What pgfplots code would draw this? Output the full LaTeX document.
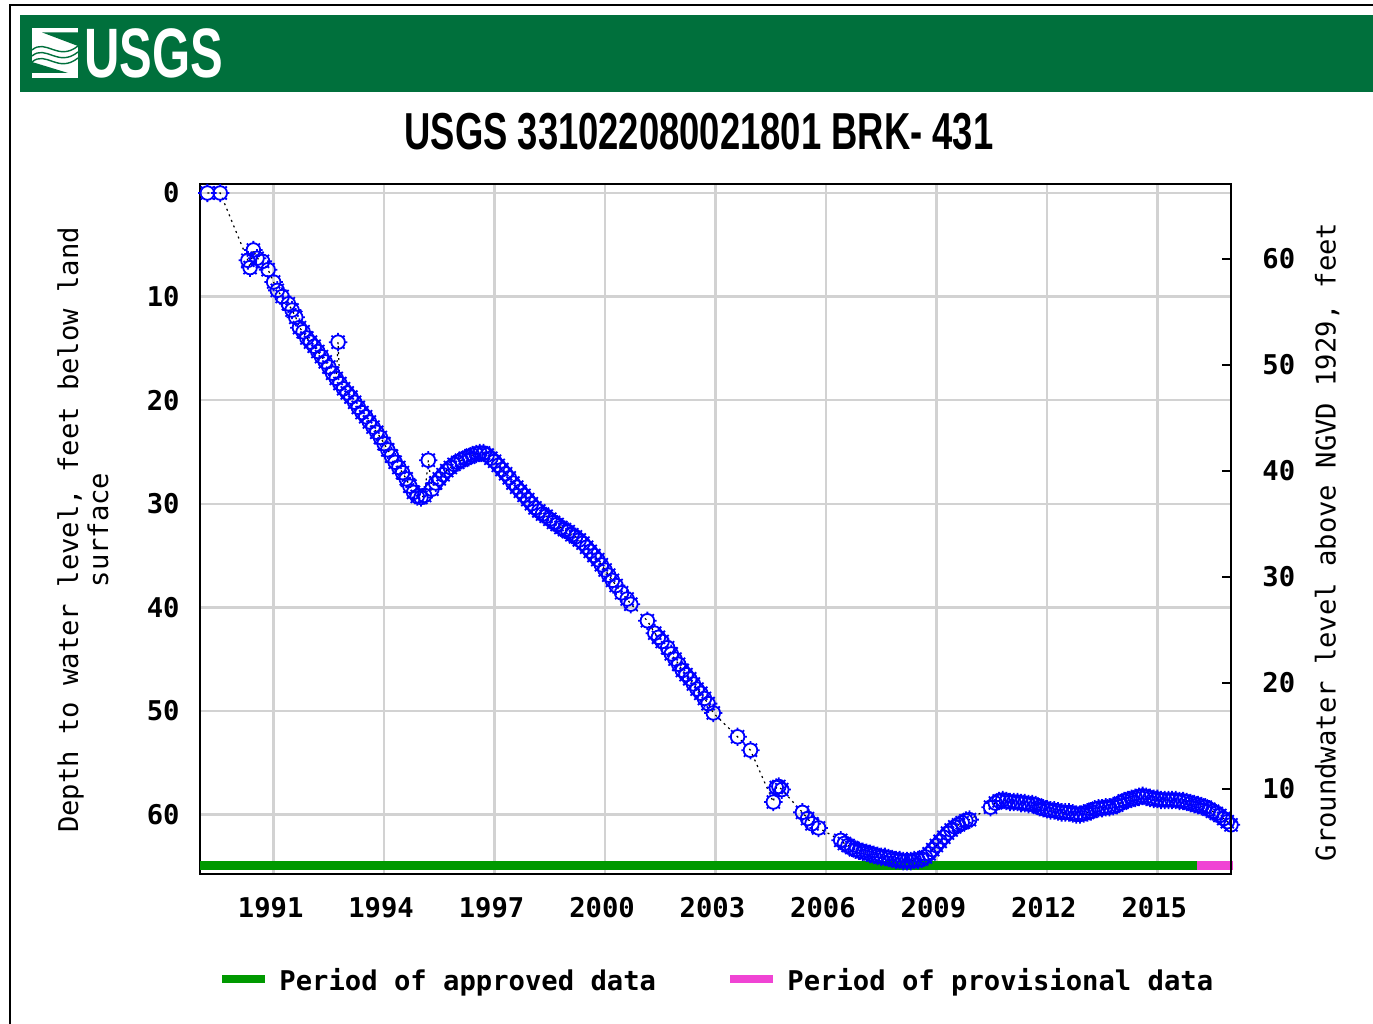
\documentclass[border=0pt]{standalone}
\usepackage{pgfplots}
\pgfplotsset{compat=1.18}
\usepackage{pgfplotstable}
\usepackage{fontspec}
\setmainfont{DejaVu Sans Mono}
\newfontfamily\mono{DejaVu Sans Mono}
\newfontfamily\narrow[FakeStretch=0.70]{Liberation Sans}
\definecolor{usgsgreen}{RGB}{0,112,60}
\definecolor{appr}{RGB}{0,153,0}
\definecolor{prov}{RGB}{240,68,212}
\definecolor{gridc}{RGB}{210,210,210}
\definecolor{markblue}{RGB}{0,0,255}

\pgfdeclareplotmark{usgs}{%
  \pgfpathcircle{\pgfpointorigin}{3.4pt}%
  \pgfusepathqstroke
  \foreach \a in {0,45,...,315}{%
    \pgfpathmoveto{\pgfpointpolar{\a}{3.4pt}}%
    \pgfpathlineto{\pgfpointpolar{\a}{4.6pt}}%
  }%
  \pgfusepathqstroke
}

\pgfplotstableread{
yr d
1989.20 0.0
1989.55 0.0
1990.30 6.5
1990.36 7.2
1990.45 5.5
1990.55 6.3
1990.70 6.6
1990.85 7.4
1991.00 8.6
1991.10 9.4
1991.23 10.0
1991.40 10.7
1991.50 11.3
1991.60 12.0
1991.70 13.0
1991.80 13.4
1991.90 14.0
1992.00 14.4
1992.10 14.8
1992.20 15.3
1992.30 15.8
1992.40 16.3
1992.50 16.8
1992.60 17.4
1992.70 17.9
1992.75 14.4
1992.80 18.4
1992.90 18.9
1993.00 19.3
1993.10 19.7
1993.20 20.2
1993.30 20.7
1993.40 21.2
1993.50 21.6
1993.60 22.1
1993.70 22.6
1993.80 23.1
1993.90 23.6
1994.00 24.2
1994.10 24.8
1994.20 25.4
1994.30 26.0
1994.40 26.5
1994.50 27.0
1994.60 27.6
1994.70 28.3
1994.80 28.9
1994.90 29.3
1995.00 29.4
1995.10 29.2
1995.20 25.8
1995.30 28.6
1995.40 28.0
1995.50 27.6
1995.60 27.2
1995.70 26.8
1995.80 26.5
1995.90 26.2
1996.00 26.0
1996.10 25.8
1996.20 25.6
1996.30 25.5
1996.40 25.3
1996.50 25.2
1996.60 25.1
1996.70 25.1
1996.80 25.3
1996.90 25.6
1997.00 25.9
1997.10 26.3
1997.20 26.7
1997.30 27.1
1997.40 27.5
1997.50 28.0
1997.60 28.4
1997.70 28.8
1997.80 29.2
1997.90 29.6
1998.00 30.0
1998.10 30.4
1998.20 30.7
1998.30 31.0
1998.40 31.2
1998.50 31.5
1998.60 31.8
1998.70 32.0
1998.80 32.3
1998.90 32.5
1999.00 32.7
1999.10 33.0
1999.20 33.2
1999.30 33.5
1999.40 33.8
1999.50 34.2
1999.60 34.6
1999.70 35.0
1999.80 35.4
1999.90 35.9
2000.00 36.4
2000.10 36.9
2000.20 37.4
2000.30 37.9
2000.45 38.6
2000.60 39.2
2000.70 39.7
2001.15 41.3
2001.35 42.5
2001.45 42.9
2001.55 43.3
2001.70 43.9
2001.80 44.5
2001.90 45.0
2002.00 45.5
2002.10 46.1
2002.20 46.5
2002.30 46.9
2002.40 47.4
2002.50 47.9
2002.60 48.3
2002.70 48.8
2002.80 49.3
2002.94 50.2
2003.60 52.5
2003.95 53.8
2004.57 58.8
2004.65 57.4
2004.72 57.3
2004.80 57.6
2005.36 59.8
2005.50 60.4
2005.62 60.9
2005.80 61.3
2006.40 62.5
2006.50 62.8
2006.60 63.0
2006.70 63.2
2006.80 63.4
2006.90 63.5
2007.00 63.6
2007.10 63.7
2007.20 63.8
2007.30 63.9
2007.40 64.0
2007.50 64.1
2007.60 64.1
2007.70 64.2
2007.80 64.3
2007.90 64.4
2008.00 64.4
2008.10 64.5
2008.20 64.5
2008.30 64.5
2008.40 64.4
2008.50 64.4
2008.60 64.3
2008.70 64.1
2008.80 63.8
2008.90 63.4
2009.00 63.0
2009.10 62.6
2009.20 62.2
2009.30 61.8
2009.40 61.5
2009.50 61.2
2009.60 61.0
2009.70 60.8
2009.80 60.6
2009.90 60.5
2010.47 59.3
2010.60 58.9
2010.70 58.7
2010.80 58.6
2010.90 58.7
2011.00 58.8
2011.10 58.8
2011.20 58.8
2011.30 58.9
2011.40 58.9
2011.50 59.0
2011.60 59.0
2011.70 59.1
2011.80 59.3
2011.90 59.4
2012.00 59.5
2012.10 59.6
2012.20 59.6
2012.30 59.7
2012.40 59.8
2012.50 59.8
2012.60 59.8
2012.70 59.9
2012.80 60.0
2012.90 60.0
2013.00 59.9
2013.10 59.8
2013.20 59.7
2013.30 59.5
2013.40 59.4
2013.50 59.4
2013.60 59.3
2013.70 59.3
2013.80 59.2
2013.90 59.1
2014.00 58.9
2014.10 58.7
2014.20 58.6
2014.30 58.5
2014.40 58.4
2014.50 58.3
2014.60 58.2
2014.70 58.3
2014.80 58.4
2014.90 58.5
2015.00 58.5
2015.10 58.6
2015.20 58.6
2015.30 58.6
2015.40 58.6
2015.50 58.6
2015.60 58.7
2015.70 58.7
2015.80 58.8
2015.90 58.9
2016.00 59.0
2016.10 59.1
2016.20 59.2
2016.30 59.3
2016.40 59.5
2016.50 59.7
2016.60 59.9
2016.70 60.1
2016.80 60.4
2016.90 60.7
2017.00 61.0
}\gw

\begin{document}
\begin{tikzpicture}
\useasboundingbox (0,0) rectangle (686.5pt,512pt);
% frame
\draw[line width=0.9pt] (5pt,0pt) -- (5pt,509.5pt) -- (686.5pt,509.5pt);
% banner
\fill[usgsgreen] (10pt,466pt) rectangle (686.5pt,504.5pt);
% logo symbol
\fill[white] (16pt,473pt) rectangle (39pt,498pt);
\fill[usgsgreen] (21pt,495.8pt) -- (39pt,495.8pt) -- (39pt,489pt) -- cycle;
\fill[usgsgreen] (16pt,475.5pt) -- (34pt,475.5pt) -- (16pt,481pt) -- cycle;
\draw[usgsgreen, line width=0.7pt] (16pt,484pt) .. controls (23pt,490pt) and (29pt,478pt) .. (39pt,486pt);
\draw[usgsgreen, line width=0.7pt] (16pt,487pt) .. controls (23pt,493pt) and (29pt,481pt) .. (39pt,489pt);
\draw[usgsgreen, line width=0.7pt] (16pt,481pt) .. controls (23pt,487pt) and (29pt,475pt) .. (39pt,483pt);
\node[anchor=west, text=white, inner sep=0pt, font=\narrow\bfseries\fontsize{35}{35}\selectfont] at (42pt,485.5pt) {USGS};
% title
\node[inner sep=0pt, font=\narrow\bfseries\fontsize{26}{26}\selectfont] at (349.5pt,446pt) {USGS 331022080021801 BRK- 431};

\begin{axis}[
  at={(100pt,75pt)}, anchor=south west,
  scale only axis, width=515.5pt, height=345pt,
  xmin=1989, xmax=2017, ymin=-0.87, ymax=65.75,
  y dir=reverse,
  xtick={1991,1994,...,2015}, ytick={0,10,...,60},
  grid=major, major grid style={gridc, line width=1.2pt},
  axis line style={line width=1pt},
  major tick length=0pt,
  clip=false,
  /pgf/number format/assume math mode=true,
  /pgf/number format/1000 sep={},
  tick label style={font=\mono\bfseries\fontsize{13.6}{14}\selectfont, inner sep=0pt},
  yticklabel style={anchor=east, xshift=-10pt},
  xticklabel style={anchor=north, yshift=-11.5pt, xshift=-1.5pt},
]
\addplot[black, line width=0.6pt, dash pattern=on 1pt off 2pt,
  mark=usgs, mark options={solid, draw=markblue, line width=0.9pt}]
  table[x=yr, y=d] {\gw};
\addplot[appr, line width=4.5pt, forget plot] coordinates {(1989,64.9) (2016.07,64.9)};
\addplot[prov, line width=4.5pt, forget plot] coordinates {(2016.07,64.9) (2017.05,64.9)};
\end{axis}

\begin{axis}[
  at={(100pt,75pt)}, anchor=south west,
  scale only axis, width=515.5pt, height=345pt,
  xmin=1989, xmax=2017, ymin=1.98, ymax=67.08,
  axis x line=none, axis y line*=right,
  ytick={10,20,...,60},
  tick align=inside, major tick length=4.5pt,
  axis line style={line width=1pt},
  y tick style={black, line width=1pt},
  /pgf/number format/assume math mode=true,
  tick label style={font=\mono\bfseries\fontsize{13.6}{14}\selectfont, inner sep=0pt},
  yticklabel style={anchor=west, xshift=15.5pt},
]
\addplot[draw=none] coordinates {(1990,10)};
\end{axis}

% axis labels
\node[rotate=90, align=center, inner sep=0pt, font=\mono\fontsize{13.6}{15}\selectfont] at (41.5pt,247pt) {Depth to water level, feet below land\\surface};
\node[rotate=90, inner sep=0pt, font=\mono\fontsize{13.6}{15}\selectfont] at (663.5pt,241pt) {Groundwater level above NGVD 1929, feet};

% legend
\draw[appr, line width=4pt] (111pt,22.5pt) -- (132.5pt,22.5pt);
\node[anchor=base west, inner sep=0pt, font=\mono\bfseries\fontsize{13.6}{14}\selectfont] at (139.5pt,16.5pt) {Period of approved data};
\draw[prov, line width=4pt] (365pt,22.5pt) -- (386.5pt,22.5pt);
\node[anchor=base west, inner sep=0pt, font=\mono\bfseries\fontsize{13.6}{14}\selectfont] at (393.5pt,16.5pt) {Period of provisional data};
\end{tikzpicture}
\end{document}
